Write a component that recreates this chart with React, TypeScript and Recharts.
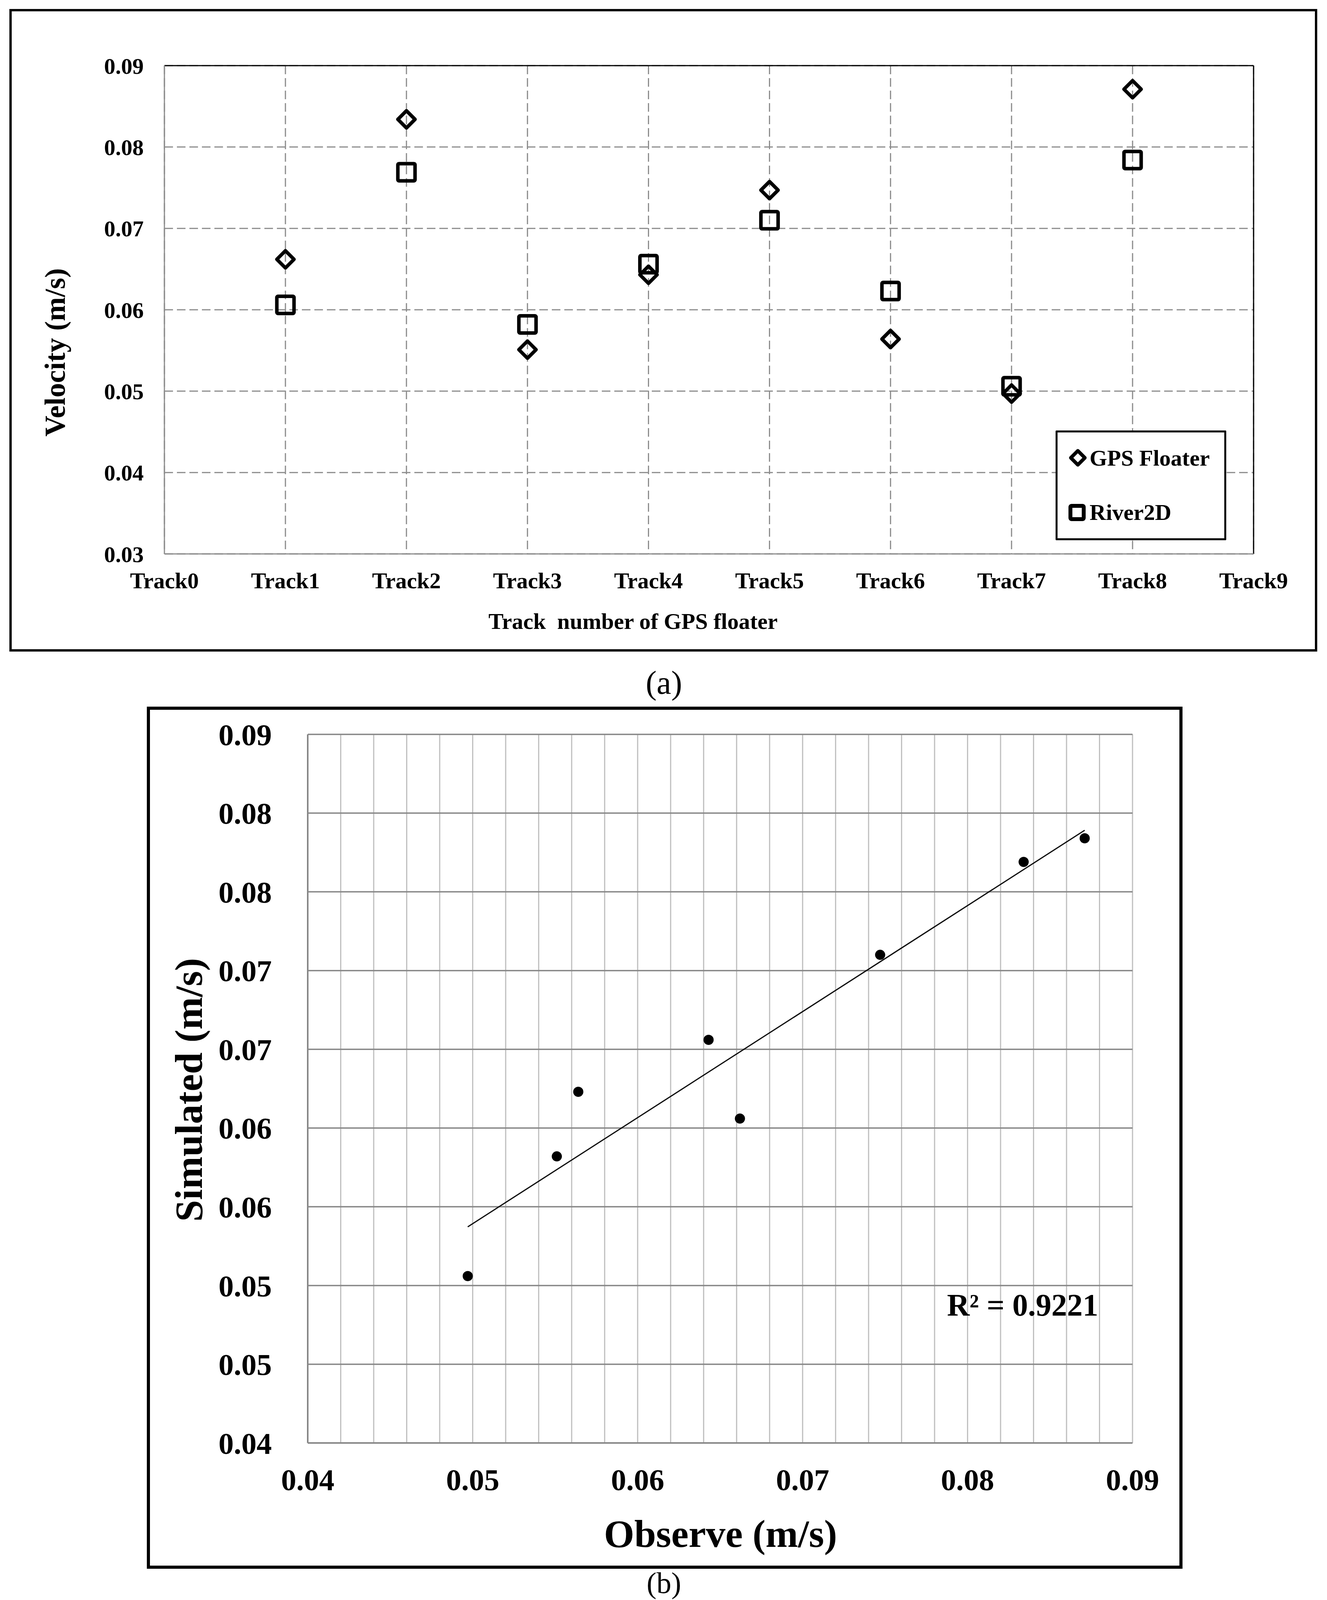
import React from 'react';
import { ScatterChart, Scatter, XAxis, YAxis, CartesianGrid, ReferenceLine, Legend } from 'recharts';

// ---------- data ----------
const trackLabels = ['Track0', 'Track1', 'Track2', 'Track3', 'Track4', 'Track5', 'Track6', 'Track7', 'Track8', 'Track9'];
const trackTicks = [0, 1, 2, 3, 4, 5, 6, 7, 8, 9];
const trackNumbers = [1, 2, 3, 4, 5, 6, 7, 8];
const gpsFloater = [0.0662, 0.0834, 0.0551, 0.0643, 0.0747, 0.0564, 0.0497, 0.0871];
const river2D = [0.0606, 0.0769, 0.0582, 0.0656, 0.071, 0.0623, 0.0506, 0.0784];

const velocityTicks = [0.03, 0.04, 0.05, 0.06, 0.07, 0.08, 0.09];
const velocityTickLabels = ['0.03', '0.04', '0.05', '0.06', '0.07', '0.08', '0.09'];

const observeTicks = [
  0.04, 0.042, 0.044, 0.046, 0.048, 0.05, 0.052, 0.054, 0.056, 0.058, 0.06, 0.062, 0.064,
  0.066, 0.068, 0.07, 0.072, 0.074, 0.076, 0.078, 0.08, 0.082, 0.084, 0.086, 0.088, 0.09,
];
const observeMajorLabels = ['0.04', '0.05', '0.06', '0.07', '0.08', '0.09'];
const simulatedTicks = [0.04, 0.045, 0.05, 0.055, 0.06, 0.065, 0.07, 0.075, 0.08, 0.085];
const simulatedTickLabels = ['0.04', '0.05', '0.05', '0.06', '0.06', '0.07', '0.07', '0.08', '0.08', '0.09'];
const rSquaredText = 'R\u00B2 = 0.9221';

// ---------- derived tables ----------
const gpsData = trackNumbers.map((t, i) => ({ x: t, y: gpsFloater[i] }));
const riverData = trackNumbers.map((t, i) => ({ x: t, y: river2D[i] }));
const pairData = gpsFloater.map((g, i) => ({ x: g, y: river2D[i] }));

const n = pairData.length;
const mx = pairData.reduce((s, p) => s + p.x, 0) / n;
const my = pairData.reduce((s, p) => s + p.y, 0) / n;
const sxy = pairData.reduce((s, p) => s + (p.x - mx) * (p.y - my), 0);
const sxx = pairData.reduce((s, p) => s + (p.x - mx) * (p.x - mx), 0);
const slope = sxy / sxx;
const intercept = my - slope * mx;
const xMin = Math.min(...gpsFloater);
const xMax = Math.max(...gpsFloater);
const trendData = [
  { x: xMin, y: intercept + slope * xMin },
  { x: xMax, y: intercept + slope * xMax },
];

const FONT = '"Liberation Serif", "Times New Roman", serif';
const GRID_A = '#8c8c8c';

// ---------- shapes ----------
const DiamondShape = (props: any) => {
  const { cx, cy } = props;
  const h = 22;
  return (
    <path
      d={`M${cx},${cy - h}L${cx + h},${cy}L${cx},${cy + h}L${cx - h},${cy}Z`}
      fill="none"
      stroke="#000"
      strokeWidth={9}
      strokeLinejoin="round"
    />
  );
};

const SquareShape = (props: any) => {
  const { cx, cy } = props;
  const h = 22;
  return (
    <rect x={cx - h} y={cy - h} width={2 * h} height={2 * h} rx={3} fill="none" stroke="#000" strokeWidth={9} strokeLinejoin="round" />
  );
};

const DotShape = (props: any) => {
  const { cx, cy } = props;
  return <circle cx={cx} cy={cy} r={13} fill="#000" />;
};

const NoShape = () => <g />;

// ---------- axis titles ----------
const XTitleA = () => (
  <text x={1621} y={1610} textAnchor="middle" fontFamily={FONT} fontWeight={700} fontSize={58} fill="#000" style={{ whiteSpace: 'pre' }}>
    {'Track  number of GPS floater'}
  </text>
);
const YTitleA = () => (
  <text x={0} y={0} transform="translate(166,902) rotate(-90)" textAnchor="middle" fontFamily={FONT} fontWeight={700} fontSize={74} fill="#000">
    Velocity (m/s)
  </text>
);
const XTitleB = () => (
  <text x={1845} y={3960 - 1750} textAnchor="middle" fontFamily={FONT} fontWeight={700} fontSize={100} fill="#000">
    Observe (m/s)
  </text>
);
const YTitleB = () => (
  <text x={0} y={0} transform={`translate(517,${2790 - 1750}) rotate(-90)`} textAnchor="middle" fontFamily={FONT} fontWeight={700} fontSize={100} fill="#000">
    Simulated (m/s)
  </text>
);

// ---------- legend ----------
const LegendBox = (props: any) => {
  const payload = props.payload || [];
  return (
    <div style={{ width: 437, height: 281, border: '5px solid #000', boxSizing: 'border-box', background: '#fff', borderRadius: 2 }}>
      <svg width={427} height={271} style={{ display: 'block' }}>
        {payload.map((entry: any, i: number) => {
          const cy = i === 0 ? 65 : 205;
          const base = i === 0 ? 85 : 224;
          const isDiamond = entry.value === 'GPS Floater';
          return (
            <g key={entry.value}>
              {isDiamond ? (
                <path d={`M52,${cy - 18}L70,${cy}L52,${cy + 18}L34,${cy}Z`} fill="none" stroke="#000" strokeWidth={9} strokeLinejoin="round" />
              ) : (
                <rect x={33} y={cy - 17} width={34} height={34} rx={3} fill="none" stroke="#000" strokeWidth={10} />
              )}
              <text x={82} y={base} fontFamily={FONT} fontWeight={700} fontSize={58} fill="#000">
                {entry.value}
              </text>
            </g>
          );
        })}
      </svg>
    </div>
  );
};

const tickStyleA = { fill: '#000', fontSize: 58, fontWeight: 700, fontFamily: FONT };
const tickStyleB = { fill: '#000', fontSize: 78, fontWeight: 700, fontFamily: FONT };

export default function App() {
  return (
    <div style={{ position: 'absolute', left: 0, top: 0, width: 3398, height: 4152, background: '#fff', overflow: 'hidden' }}>
      {/* frame boxes */}
      <div style={{ position: 'absolute', left: 24, top: 23, width: 3349, height: 1645, border: '6px solid #000', boxSizing: 'border-box' }} />
      <div style={{ position: 'absolute', left: 376, top: 1809, width: 2652, height: 2207, border: '8px solid #000', boxSizing: 'border-box' }} />

      {/* chart (a) */}
      <div style={{ position: 'absolute', left: 0, top: 0 }}>
        <ScatterChart width={3398} height={1700} margin={{ top: 168, right: 188, bottom: 0, left: 0 }}>
          <CartesianGrid stroke={GRID_A} strokeWidth={3} strokeDasharray="22 10" />
          <XAxis
            type="number"
            dataKey="x"
            domain={[0, 9]}
            ticks={trackTicks}
            interval={0}
            tickFormatter={(v: number) => trackLabels[v]}
            height={282}
            tickLine={false}
            tickSize={0}
            tickMargin={47}
            axisLine={{ stroke: GRID_A, strokeWidth: 3 }}
            tick={tickStyleA}
            label={<XTitleA />}
          />
          <YAxis
            type="number"
            dataKey="y"
            domain={[0.03, 0.09]}
            ticks={velocityTicks}
            interval={0}
            tickFormatter={(v: number, i: number) => velocityTickLabels[i]}
            width={421}
            tickLine={false}
            tickSize={0}
            tickMargin={53}
            axisLine={{ stroke: GRID_A, strokeWidth: 3 }}
            tick={tickStyleA}
            label={<YTitleA />}
          />
          <ReferenceLine y={0.09} stroke="#000" strokeWidth={3} />
          <ReferenceLine x={9} stroke="#000" strokeWidth={3} />
          <Scatter name="GPS Floater" data={gpsData} shape={DiamondShape} fill="#000" isAnimationActive={false} />
          <Scatter name="River2D" data={riverData} shape={SquareShape} fill="#000" isAnimationActive={false} />
          <Legend
            layout="vertical"
            align="center"
            verticalAlign="middle"
            content={LegendBox}
            wrapperStyle={{ left: 2703, top: 1102, width: 437, height: 281 }}
          />
        </ScatterChart>
      </div>

      {/* chart (b) */}
      <div style={{ position: 'absolute', left: 0, top: 1750 }}>
        <ScatterChart width={3398} height={2402} margin={{ top: 130, right: 498, bottom: 0, left: 0 }}>
          <CartesianGrid horizontal={false} stroke="#bfbfbf" strokeWidth={3} />
          <CartesianGrid vertical={false} stroke="#878787" strokeWidth={3.5} />
          <XAxis
            type="number"
            dataKey="x"
            domain={[0.04, 0.09]}
            ticks={observeTicks}
            interval={0}
            tickFormatter={(v: number, i: number) => (i % 5 === 0 ? observeMajorLabels[i / 5] : '')}
            height={458}
            tickLine={false}
            tickSize={0}
            tickMargin={66}
            axisLine={{ stroke: '#878787', strokeWidth: 4 }}
            tick={tickStyleB}
            label={<XTitleB />}
          />
          <YAxis
            type="number"
            dataKey="y"
            domain={[0.04, 0.085]}
            ticks={simulatedTicks}
            interval={0}
            tickFormatter={(v: number, i: number) => simulatedTickLabels[i]}
            width={788}
            tickLine={false}
            tickSize={0}
            tickMargin={92}
            axisLine={{ stroke: '#878787', strokeWidth: 4 }}
            tick={tickStyleB}
            label={<YTitleB />}
          />
          <Scatter name="Trend" data={trendData} shape={NoShape} line={{ stroke: '#000', strokeWidth: 3 }} isAnimationActive={false} />
          <Scatter name="Simulated vs Observed" data={pairData} shape={DotShape} fill="#000" isAnimationActive={false} />
        </ScatterChart>
      </div>

      {/* captions & annotation */}
      <svg width={3398} height={4152} style={{ position: 'absolute', left: 0, top: 0, pointerEvents: 'none' }}>
        <text x={1700} y={1776} textAnchor="middle" fontFamily={FONT} fontSize={84} fill="#000">(a)</text>
        <text x={1700} y={4078} textAnchor="middle" fontFamily={FONT} fontSize={76} fill="#000">(b)</text>
        <text x={2425} y={3368} fontFamily={FONT} fontWeight={700} fontSize={80} fill="#000">{rSquaredText}</text>
      </svg>
    </div>
  );
}
